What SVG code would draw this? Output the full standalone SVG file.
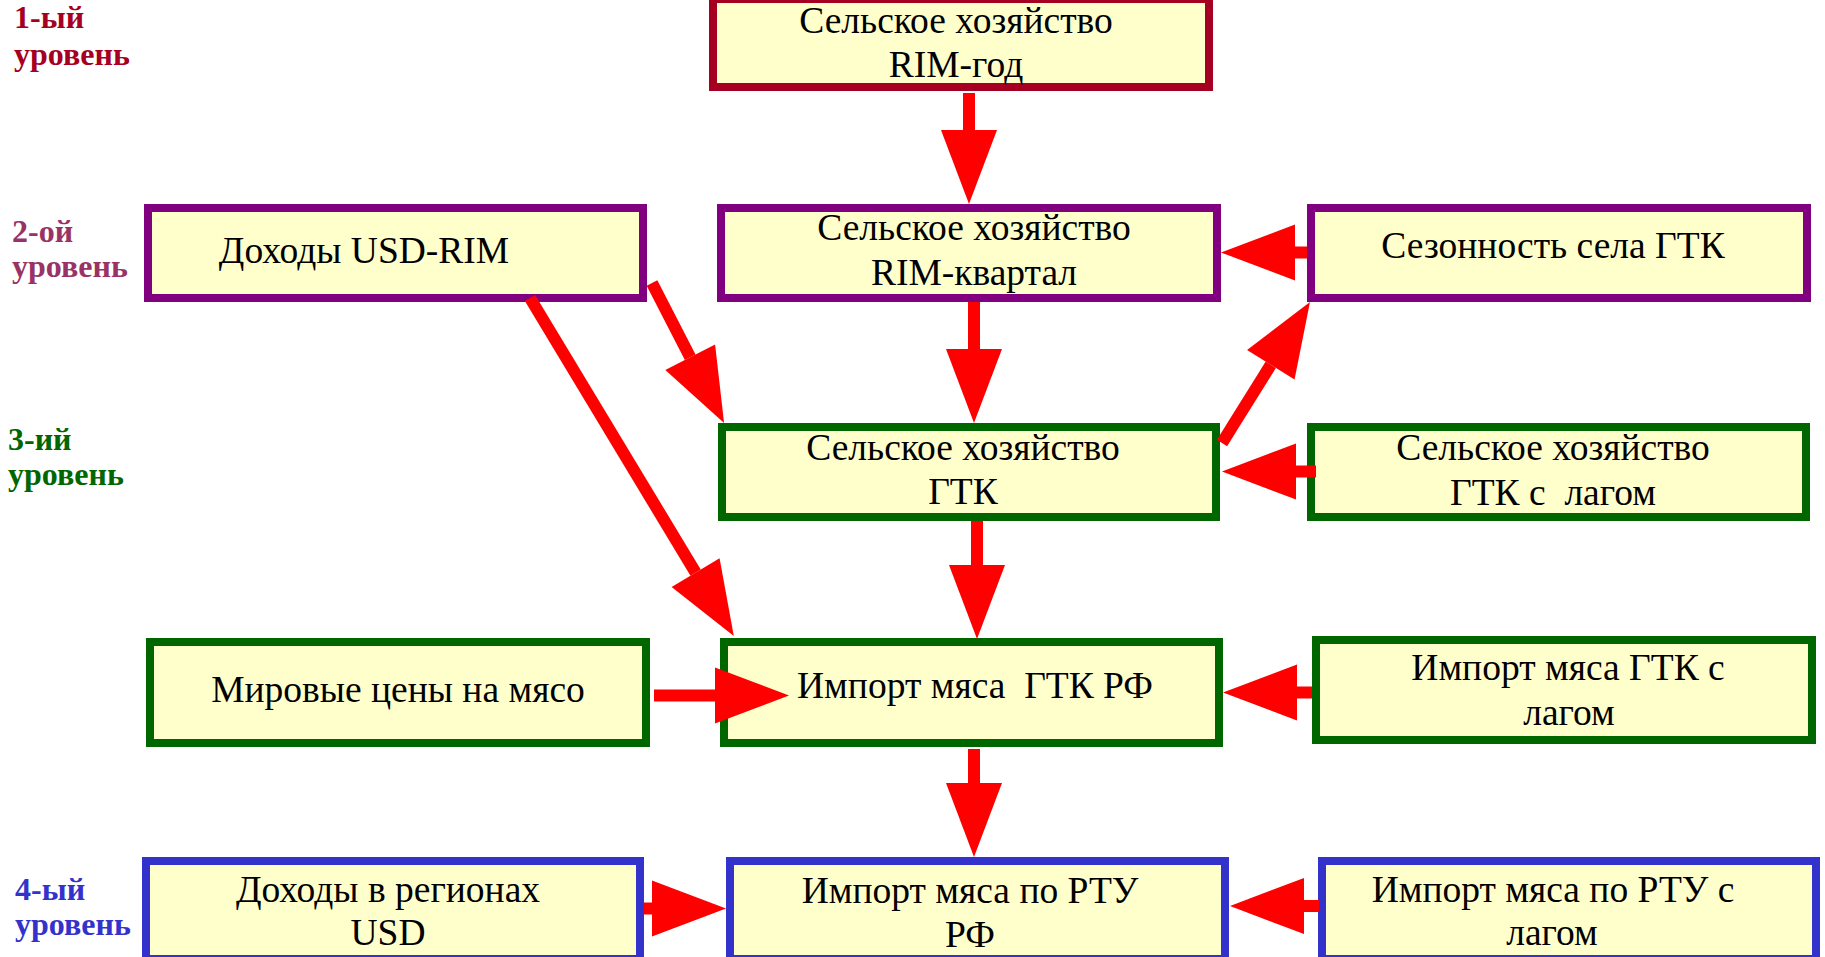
<svg xmlns="http://www.w3.org/2000/svg" width="1825" height="957" viewBox="0 0 1825 957">
<style>
.box{fill:#FFFFCC;stroke-width:8}
.r{stroke:#A50021}.p{stroke:#800080}.g{stroke:#006600}.b{stroke:#3333CC}
.t{font-family:"Liberation Serif","Times New Roman",serif;font-size:37.5px;fill:#000;text-anchor:middle}
.lv{font-family:"Liberation Serif","Times New Roman",serif;font-size:32px;font-weight:bold}
.c{stroke:#FF0000;stroke-width:12;fill:none;marker-end:url(#ah)}
</style>
<defs>
<marker id="ah" markerUnits="userSpaceOnUse" markerWidth="76" markerHeight="58" refX="0" refY="28" orient="auto" overflow="visible">
<path d="M0,0 L74,28 L0,56 Z" fill="#FF0000"/>
</marker>
</defs>
<rect width="1825" height="957" fill="#FFFFFF"/>
<g id="levels">
<text class="lv" fill="#A50021" x="14" y="28">1-ый</text>
<text class="lv" fill="#A50021" x="14" y="65">уровень</text>
<text class="lv" fill="#993366" x="12" y="242">2-ой</text>
<text class="lv" fill="#993366" x="12" y="277">уровень</text>
<text class="lv" fill="#006600" x="8" y="450">3-ий</text>
<text class="lv" fill="#006600" x="8" y="485">уровень</text>
<text class="lv" fill="#3333CC" x="15" y="900">4-ый</text>
<text class="lv" fill="#3333CC" x="15" y="935">уровень</text>
</g>
<g id="n1"><rect class="box r" x="713" y="-1" width="496" height="88"/>
<text class="t" x="956" y="33">Сельское хозяйство</text><text class="t" x="956" y="77">RIM-год</text></g>
<g id="n2"><rect class="box p" x="148" y="208" width="495" height="90"/>
<text class="t" x="364" y="263">Доходы USD-RIM</text></g>
<g id="n3"><rect class="box p" x="721" y="208" width="496" height="90"/>
<text class="t" x="974" y="240">Сельское хозяйство</text><text class="t" x="974" y="285">RIM-квартал</text></g>
<g id="n4"><rect class="box p" x="1311" y="208" width="496" height="90"/>
<text class="t" x="1553" y="258">Сезонность села ГТК</text></g>
<g id="n5"><rect class="box g" x="722" y="427" width="494" height="90"/>
<text class="t" x="963" y="460">Сельское хозяйство</text><text class="t" x="963" y="504">ГТК</text></g>
<g id="n6"><rect class="box g" x="1311" y="427" width="495" height="90"/>
<text class="t" x="1553" y="460">Сельское хозяйство</text><text class="t" x="1553" y="505" xml:space="preserve">ГТК с  лагом</text></g>
<g id="n7"><rect class="box g" x="150" y="642" width="496" height="101"/>
<text class="t" x="398" y="702">Мировые цены на мясо</text></g>
<g id="n8"><rect class="box g" x="724" y="642" width="495" height="101"/>
<text class="t" x="975" y="698" xml:space="preserve">Импорт мяса  ГТК РФ</text></g>
<g id="n9"><rect class="box g" x="1316" y="640" width="496" height="100"/>
<text class="t" x="1568" y="680">Импорт мяса ГТК с</text><text class="t" x="1569" y="725">лагом</text></g>
<g id="n10"><rect class="box b" x="146" y="861" width="494" height="98"/>
<text class="t" x="388" y="902">Доходы в регионах</text><text class="t" x="388" y="945">USD</text></g>
<g id="n11"><rect class="box b" x="730" y="861" width="495" height="98"/>
<text class="t" x="970" y="903">Импорт мяса по РТУ</text><text class="t" x="970" y="947">РФ</text></g>
<g id="n12"><rect class="box b" x="1322" y="861" width="494" height="98"/>
<text class="t" x="1553" y="902">Импорт мяса по РТУ с</text><text class="t" x="1552" y="945">лагом</text></g>
<g id="connectors">
<line class="c" x1="969" y1="93" x2="969" y2="130"/>
<line class="c" x1="1307" y1="252.5" x2="1295" y2="252.5"/>
<line class="c" x1="974" y1="302" x2="974" y2="349"/>
<line class="c" x1="652" y1="283" x2="690.2" y2="357.2"/>
<line class="c" x1="530" y1="298" x2="695.6" y2="572.6"/>
<line class="c" x1="1222" y1="443" x2="1270.8" y2="364.8"/>
<line class="c" x1="1316" y1="471.5" x2="1296" y2="471.5"/>
<line class="c" x1="977" y1="521" x2="977" y2="565"/>
<line class="c" x1="654" y1="695.5" x2="715" y2="695.5"/>
<line class="c" x1="1312" y1="692.5" x2="1297" y2="692.5"/>
<line class="c" x1="974" y1="749" x2="974" y2="783"/>
<line class="c" x1="644" y1="908.5" x2="652" y2="908.5"/>
<line class="c" x1="1319" y1="906" x2="1304" y2="906"/>
</g>
</svg>
